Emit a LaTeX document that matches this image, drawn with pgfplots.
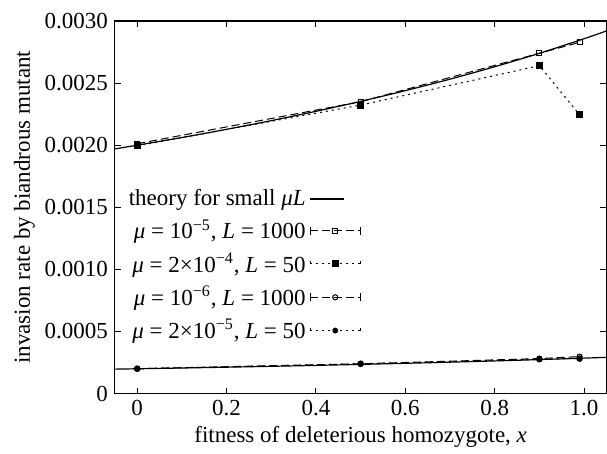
\documentclass[border=0pt]{standalone}
\usepackage{pgfplots}
\pgfplotsset{compat=1.18}
\usepackage{fontspec}
\setmainfont{Liberation Serif}
\newcommand{\mmu}{\textit{μ}}
\newcommand{\LL}{\textit{L}}

\begin{document}
\begin{tikzpicture}[font=\fontsize{11.5}{13.5}\selectfont]
\begin{axis}[
  scale only axis,
  width=246pt, height=186.5pt,
  xmin=-0.05, xmax=1.05,
  ymin=0, ymax=0.003,
  xtick={0,0.2,0.4,0.6,0.8,1.0},
  xticklabels={0,0.2,0.4,0.6,0.8,1.0},
  ytick={0,0.0005,0.0010,0.0015,0.0020,0.0025,0.0030},
  yticklabels={0,0.0005,0.0010,0.0015,0.0020,0.0025,0.0030},
  scaled y ticks=false,
  tick align=inside,
  major tick length=3pt,
  axis line style={line width=0.6pt},
  tick style={line width=0.5pt, black},
  xlabel={fitness of deleterious homozygote, \textit{x}},
  ylabel={invasion rate by biandrous mutant},
  xlabel style={yshift=2pt},
  ylabel style={yshift=-2pt},
  legend plot pos=right,
  legend cell align=right,
  legend style={draw=none, fill=none, at={(rel axis cs:0.505,0.565)}, anchor=north east,
    row sep=1.5pt, inner sep=1pt, font=\fontsize{11.5}{13.5}\selectfont},
]
% theory upper
\addplot[black, line width=0.6pt, smooth, no marks] table {
x y
-0.05 0.0019704
0.0 0.0020000
0.1 0.0020619
0.2 0.0021277
0.3 0.0021978
0.4 0.0022727
0.5 0.0023529
0.6 0.0024390
0.7 0.0025316
0.8 0.0026316
0.9 0.0027397
1.0 0.0028571
1.05 0.0029197
};
\addlegendentry{theory for small \mmu\LL}
% mu=1e-5, L=1000
\addplot[black, line width=0.5pt, dash pattern=on 4pt off 2pt, mark=square, mark size=1.3pt, mark options={solid},
  legend image code/.code={
    \draw[dash pattern=on 4pt off 2pt] (0pt,0pt) -- (25pt,0pt);
    \draw[solid] (0pt,-2pt) -- (0pt,2pt);
    \draw[solid] (25pt,-2pt) -- (25pt,2pt);
    \draw[solid, mark=square, mark size=1.3pt] plot coordinates {(12.5pt,0pt)};
  }] table {
x y
0 0.002012
0.5 0.002350
0.9 0.002740
0.99 0.002828
};
\addlegendentry{\mmu\ = 10\textsuperscript{−5}, \LL\ = 1000}
% mu=2e-4, L=50
\addplot[black, line width=0.5pt, dash pattern=on 1pt off 2pt, mark=square*, mark size=1.5pt, mark options={solid},
  legend image code/.code={
    \draw[dash pattern=on 1pt off 2pt] (0pt,0pt) -- (25pt,0pt);
    \draw[solid] (0pt,0pt) -- (0pt,1.5pt);
    \draw[solid] (25pt,0pt) -- (25pt,1.5pt);
    \draw[solid, mark=square*, mark size=1.5pt] plot coordinates {(12.5pt,0pt)};
  }] table {
x y
0 0.001995
0.5 0.002323
0.9 0.002640
0.99 0.002244
};
\addlegendentry{\mmu\ = 2×10\textsuperscript{−4}, \LL\ = 50}
% mu=1e-6, L=1000
\addplot[black, line width=0.5pt, dash pattern=on 4pt off 2pt, mark=o, mark size=1.3pt, mark options={solid},
  legend image code/.code={
    \draw[dash pattern=on 4pt off 2pt] (0pt,0pt) -- (25pt,0pt);
    \draw[solid] (0pt,-2pt) -- (0pt,2pt);
    \draw[solid] (25pt,-2pt) -- (25pt,2pt);
    \draw[solid, mark=o, mark size=1.3pt] plot coordinates {(12.5pt,0pt)};
  }] table {
x y
0 0.000201
0.5 0.000240
0.9 0.000282
0.99 0.000298
};
\addlegendentry{\mmu\ = 10\textsuperscript{−6}, \LL\ = 1000}
% mu=2e-5, L=50
\addplot[black, line width=0.5pt, dash pattern=on 1pt off 2pt, mark=*, mark size=1.4pt, mark options={solid},
  legend image code/.code={
    \draw[dash pattern=on 1pt off 2pt] (0pt,0pt) -- (25pt,0pt);
    \draw[solid] (0pt,0pt) -- (0pt,1.5pt);
    \draw[solid] (25pt,0pt) -- (25pt,1.5pt);
    \draw[solid, mark=*, mark size=1.2pt] plot coordinates {(12.5pt,0pt)};
  }] table {
x y
0 0.000200
0.5 0.000240
0.9 0.000277
0.99 0.000282
};
\addlegendentry{\mmu\ = 2×10\textsuperscript{−5}, \LL\ = 50}
% theory lower
\addplot[black, line width=0.6pt, smooth, no marks, forget plot] table {
x y
-0.05 0.00019704
0.0 0.00020000
0.1 0.00020619
0.2 0.00021277
0.3 0.00021978
0.4 0.00022727
0.5 0.00023529
0.6 0.00024390
0.7 0.00025316
0.8 0.00026316
0.9 0.00027397
1.0 0.00028571
1.05 0.00029197
};
\end{axis}
\path ([xshift=-57.5pt,yshift=-30pt]current axis.south west) rectangle ([yshift=10.5pt]current axis.north east);
\end{tikzpicture}
\end{document}
